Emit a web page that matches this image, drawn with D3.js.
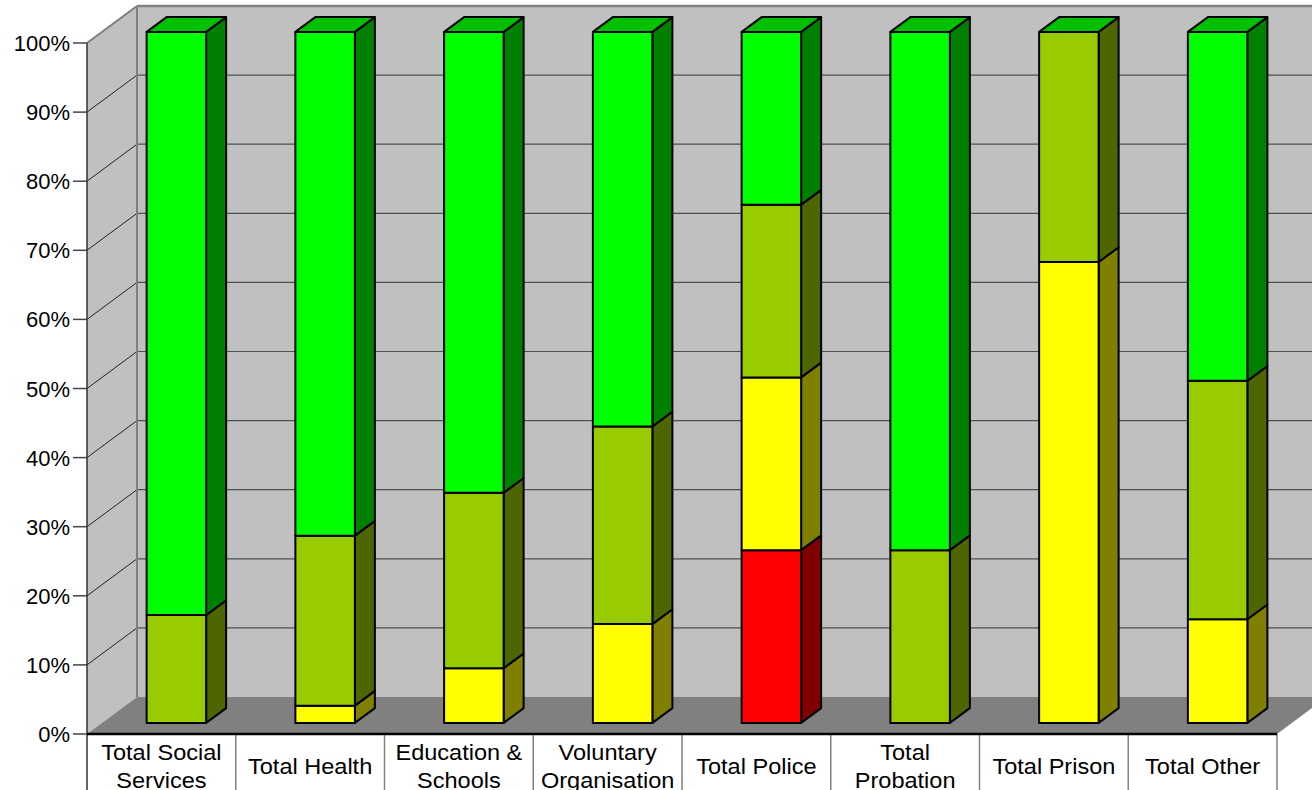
<!DOCTYPE html>
<html>
<head>
<meta charset="utf-8">
<script src="https://cdn.jsdelivr.net/npm/d3@7"></script>
<style>
  body { margin: 0; background: #fff; }
  svg { display: block; font-family: "Liberation Sans", Arial, sans-serif; }
</style>
</head>
<body>
<div id="chart"></div>
<script>
// categories (split into label lines as in the picture)
var categories = ["Total Social Services", "Total Health", "Education & Schools", "Voluntary Organisation",
                  "Total Police", "Total Probation", "Total Prison", "Total Other"];
var categoryLines = [["Total Social", "Services"], ["Total Health"], ["Education &", "Schools"],
                     ["Voluntary", "Organisation"], ["Total Police"], ["Total", "Probation"],
                     ["Total Prison"], ["Total Other"]];

// series values, percent of each column (bottom to top)
var redVals    = [0,    0,    0,    0,    25, 0,  0,    0];
var yellowVals = [0,    2.5,  7.9,  14.3, 25, 0,  66.7, 15];
var oliveVals  = [15.6, 24.6, 25.4, 28.6, 25, 25, 33.3, 34.5];
var greenVals  = [84.4, 72.9, 66.7, 57.1, 25, 75, 0,    50.5];

var yTicks = [0, 10, 20, 30, 40, 50, 60, 70, 80, 90, 100];

var series = [
  {vals: redVals,    front: "#ff0000", side: "#800000", top: "#c00000"},
  {vals: yellowVals, front: "#ffff00", side: "#808000", top: "#c0c000"},
  {vals: oliveVals,  front: "#99cc00", side: "#4d6600", top: "#739900"},
  {vals: greenVals,  front: "#00ff00", side: "#008000", top: "#00c000"}
];

var W = 1312, H = 790;
var DX = 50, DY = 37;          // full depth offset
var Z0 = 0.3, Z1 = 0.7;        // bar depth inside the plot

var svg = d3.select("#chart").append("svg").attr("width", W).attr("height", H);

var x = d3.scaleBand().domain(d3.range(categories.length))
  .range([87, 1277]).paddingInner(0.6).paddingOuter(0.3);
var xCat = d3.scaleBand().domain(d3.range(categories.length)).range([87, 1277]);
var y = d3.scaleLinear().domain([0, 100]).range([734, 43]);

function pt(px, v, z) { return [px + DX * z, y(v) - DY * z]; }
function poly(pts) { return pts.map(function(p) { return p.join(","); }).join(" "); }

// walls
svg.append("rect").attr("x", 87 + DX).attr("y", y(100) - DY).attr("width", W).attr("height", y(0) - y(100))
  .attr("fill", "#c0c0c0");
svg.append("polygon")
  .attr("points", poly([pt(87, 0, 0), pt(87, 100, 0), pt(87, 100, 1), pt(87, 0, 1)]))
  .attr("fill", "#c0c0c0");

// gridlines on back wall and left wall
svg.selectAll(".grid").data(yTicks.slice(1)).enter().append("line")
  .attr("x1", 87 + DX).attr("x2", W)
  .attr("y1", function(d) { return y(d) - DY; }).attr("y2", function(d) { return y(d) - DY; })
  .attr("stroke", "#505050").attr("stroke-width", 1.2);
svg.selectAll(".gridl").data(yTicks.slice(1)).enter().append("line")
  .attr("x1", 87).attr("y1", function(d) { return y(d); })
  .attr("x2", 87 + DX).attr("y2", function(d) { return y(d) - DY; })
  .attr("stroke", "#222").attr("stroke-width", 1);

// wall edges
svg.append("line").attr("x1", 87 + DX).attr("x2", W).attr("y1", y(100) - DY).attr("y2", y(100) - DY)
  .attr("stroke", "#808080").attr("stroke-width", 2.5);
svg.append("line").attr("x1", 87).attr("y1", y(100)).attr("x2", 87 + DX).attr("y2", y(100) - DY)
  .attr("stroke", "#808080").attr("stroke-width", 2);
svg.append("line").attr("x1", 87 + DX).attr("x2", 87 + DX).attr("y1", y(100) - DY).attr("y2", y(0) - DY)
  .attr("stroke", "#808080").attr("stroke-width", 2);

// floor
svg.append("polygon")
  .attr("points", poly([pt(87, 0, 0), pt(87, 0, 1), pt(1277, 0, 1), pt(1277, 0, 0)]))
  .attr("fill", "#808080");

// category label boxes
svg.append("rect").attr("x", 87).attr("y", y(0)).attr("width", 1277 - 87).attr("height", H - y(0))
  .attr("fill", "#fff");
svg.selectAll(".sep").data(d3.range(1, categories.length + 1)).enter().append("line")
  .attr("x1", function(d) { return 87 + xCat.step() * d; }).attr("x2", function(d) { return 87 + xCat.step() * d; })
  .attr("y1", y(0)).attr("y2", H)
  .attr("stroke", "#808080").attr("stroke-width", 1.5);
svg.append("line").attr("x1", 87).attr("x2", 87).attr("y1", y(100)).attr("y2", H)
  .attr("stroke", "#333").attr("stroke-width", 1.5);
svg.append("line").attr("x1", 87).attr("x2", 1277).attr("y1", y(0)).attr("y2", y(0))
  .attr("stroke", "#000").attr("stroke-width", 2.5);

// y axis ticks and labels
svg.selectAll(".tick").data(yTicks).enter().append("line")
  .attr("x1", 73).attr("x2", 87)
  .attr("y1", function(d) { return y(d); }).attr("y2", function(d) { return y(d); })
  .attr("stroke", "#444").attr("stroke-width", 1.5);
svg.selectAll(".ylab").data(yTicks).enter().append("text")
  .attr("x", 70).attr("y", function(d) { return y(d) + 8; })
  .attr("text-anchor", "end").attr("font-size", 22).attr("fill", "#000")
  .text(function(d) { return d + "%"; });

// category labels (slightly wide lettering, as in the reference)
categoryLines.forEach(function(lines, i) {
  var cx = xCat(i) + xCat.bandwidth() / 2;
  var t = svg.append("text").attr("text-anchor", "middle").attr("font-size", 22).attr("fill", "#000")
    .attr("transform", "translate(" + cx + ",0) scale(1.07,1)");
  if (lines.length === 1) {
    t.append("tspan").attr("x", 0).attr("y", 774).text(lines[0]);
  } else {
    t.append("tspan").attr("x", 0).attr("y", 760).text(lines[0]);
    t.append("tspan").attr("x", 0).attr("y", 788).text(lines[1]);
  }
});

// bars
function styled(sel) {
  return sel.attr("stroke", "#000").attr("stroke-width", 2).attr("stroke-linejoin", "round");
}

categories.forEach(function(c, i) {
  var x0 = x(i), x1 = x(i) + x.bandwidth();
  var base = 0;
  series.forEach(function(s, si) {
    var v = s.vals[i];
    var top = base + v;
    if (v > 0) {
      styled(svg.append("polygon")
        .attr("points", poly([pt(x1, base, Z0), pt(x1, top, Z0), pt(x1, top, Z1), pt(x1, base, Z1)]))
        .attr("fill", s.side));
      styled(svg.append("polygon")
        .attr("points", poly([pt(x0, base, Z0), pt(x1, base, Z0), pt(x1, top, Z0), pt(x0, top, Z0)]))
        .attr("fill", s.front));
    }
    if (si === series.length - 1) {
      styled(svg.append("polygon")
        .attr("points", poly([pt(x0, top, Z0), pt(x1, top, Z0), pt(x1, top, Z1), pt(x0, top, Z1)]))
        .attr("fill", s.top));
    }
    base = top;
  });
});
</script>
</body>
</html>
